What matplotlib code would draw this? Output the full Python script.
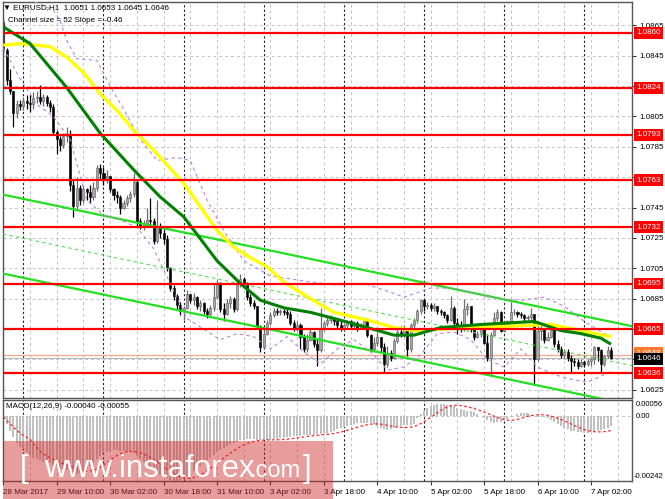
import matplotlib
matplotlib.use("Agg")
import matplotlib.pyplot as plt
import numpy as np
import pandas as pd
from matplotlib.patches import Rectangle

plt.rcParams['font.family'] = ['Liberation Sans', 'DejaVu Sans']

PIP = 0.0001
BASE = 1.0600

# ---- candle data (pips above 1.0600) ----
open_first = 267
close_pips = [249, 229, 222, 207, 213, 212, 215, 214, 213, 217, 218, 215, 218, 214, 211, 195, 190, 186, 192, 193,
              160, 146, 158, 150, 157, 155, 152, 158, 171, 168, 164, 166, 157, 153, 152, 145, 148, 151, 154, 162,
              136, 133, 135, 137, 136, 123, 133, 128,
              124, 105, 92, 87, 81, 77, 79, 88, 84, 86, 80, 82, 77, 75, 79, 86, 95, 78, 75, 82,
              85, 78, 95, 98, 95, 86, 82, 80, 67, 53, 62, 69, 74, 77, 76, 77, 76, 75, 69, 66, 68, 60,
              52, 58, 63, 55, 51, 66, 69, 71, 72, 70, 68, 66, 68, 70, 67, 69, 66, 67, 71, 61,
              52, 56, 60, 53, 42, 49, 46, 57, 63, 62, 66, 52, 68, 71, 77, 84, 80, 81, 79, 80,
              77, 76, 74, 71, 79, 69, 67, 66, 78,
              80, 65, 60, 62, 65, 56, 46, 61, 72, 76, 64, 68, 70, 76, 76, 75, 74, 72, 73, 75,
              45, 64, 66, 58, 60, 67, 55, 52, 48, 50, 46, 44, 43, 41, 43, 42, 44, 45, 53, 51,
              42, 47, 51, 46]
high_pips = [270, 250, 236, 222, 216, 216, 218, 219, 220, 221, 222, 226, 220, 219, 216, 213, 196, 192, 194, 198,
             196, 163, 165, 160, 160, 158, 160, 162, 173, 174, 172, 170, 166, 158, 156, 153, 150, 153, 156, 168,
             163, 138, 137, 145, 151, 138, 150, 135,
             131, 127, 106, 94, 88, 83, 80, 91, 88, 89, 87, 84, 83, 79, 81, 95, 97, 96, 82, 85,
             87, 86, 97, 101, 99, 96, 88, 84, 80, 68, 66, 71, 76, 79, 79, 78, 78, 78, 77, 71, 70, 69,
             62, 62, 66, 64, 59, 79, 70, 73, 74, 73, 71, 70, 69, 71, 71, 70, 70, 69, 73, 72,
             62, 60, 63, 60, 56, 54, 51, 59, 65, 67, 68, 66, 69, 72, 78, 85, 85, 83, 82, 82,
             80, 78, 77, 75, 87, 80, 72, 70, 85,
             82, 80, 66, 64, 66, 66, 62, 63, 76, 78, 77, 70, 71, 83, 78, 77, 76, 75, 74, 79,
             75, 67, 69, 66, 63, 68, 68, 58, 54, 52, 52, 48, 46, 45, 45, 44, 45, 46, 54, 53,
             52, 48, 54, 53]
low_pips = [247, 226, 220, 198, 204, 209, 209, 210, 208, 210, 214, 213, 212, 212, 208, 193, 180, 182, 184, 188,
            156, 139, 144, 147, 148, 150, 148, 150, 156, 163, 160, 161, 155, 150, 148, 141, 144, 146, 149, 152,
            133, 131, 130, 133, 132, 121, 122, 125,
            121, 103, 90, 84, 78, 74, 71, 78, 82, 81, 78, 77, 75, 72, 73, 77, 85, 76, 70, 74,
            79, 76, 77, 93, 92, 84, 80, 78, 65, 50, 52, 61, 68, 73, 74, 74, 74, 72, 68, 64, 64, 52,
            50, 50, 57, 53, 41, 50, 64, 67, 69, 68, 66, 64, 64, 66, 65, 65, 64, 65, 66, 60,
            50, 50, 54, 50, 36, 40, 44, 45, 56, 60, 60, 47, 50, 65, 69, 75, 77, 78, 77, 77,
            75, 74, 72, 69, 70, 68, 62, 63, 64,
            74, 63, 58, 59, 60, 55, 44, 35, 61, 70, 63, 63, 66, 70, 74, 73, 72, 70, 71, 71,
            28, 44, 58, 56, 57, 59, 53, 50, 46, 46, 44, 37, 41, 39, 40, 40, 41, 41, 42, 44,
            37, 41, 46, 45]

# ---- MACD main line per bar (units of 1e-5) ----
macd_e5 = [-5, -30, -55, -80, -100, -115, -125, -135, -145, -155, -162,
           -166, -170, -172, -176, -182, -188, -192, -196, -200, -210,
           -216, -216, -212, -206, -198, -188, -176, -160, -148, -140,
           -134, -130, -128, -128, -130, -132, -134, -136, -140, -150,
           -160, -170, -180, -190, -200, -210, -218, -226, -232, -238,
           -242, -242, -238, -230, -222, -214, -206, -196, -186, -176,
           -166, -156, -146, -136, -128, -120, -112, -106, -100, -96,
           -92, -90, -88, -87, -88, -90, -92, -92, -91, -90,
           -88, -86, -84, -82, -80, -78, -76, -75, -74, -72,
           -71, -70, -70, -69, -68, -66, -64, -60, -55, -50,
           -45, -42, -40, -36, -32, -29, -27, -26, -26, -28,
           -32, -38, -44, -50, -52, -50, -46, -42, -38, -36,
           -34, -33, -30, -10, 5, 18, 28, 35, 40, 42,
           42, 42, 41, 38, 34, 30, 26, 22, 18, 16,
           12, 6, 0, -8, -16, -22, -26, -25, -22, -17,
           -12, -6, 0, 5, 9, 10, 8, 4, 0, -4,
           0, -4, -10, -16, -24, -32, -38, -44, -50, -55,
           -58, -60, -62, -63, -63, -62, -60, -58, -54, -50, -45, -40]

# ---- moving averages (readings at bar index) ----
ma_green_idx = [0, 8, 19, 29, 39, 47, 54, 64, 71, 77, 84, 92, 99, 109, 117, 123, 131, 143, 159, 167, 173, 179, 182]
ma_green_pips = [264, 253, 224, 194, 170, 152, 139, 110, 95, 84, 79, 76, 72, 66, 61, 61, 66, 68, 70, 64, 62, 59, 55]
ma_yellow_idx = [0, 5, 14, 19, 24, 29, 34, 39, 44, 47, 54, 64, 69, 74, 79, 84, 92, 99, 109, 117, 123, 131, 143,
                 152, 164, 173, 182]
ma_yellow_pips = [252, 253, 251, 244, 234, 220, 209, 196, 185, 178, 161, 130, 119, 112, 106, 96, 85, 76, 71, 66,
                  64, 65, 66, 67, 68, 64, 60]

# ---- bands (purple dashed) ----
band_up_idx = [0, 15, 17, 19, 22, 28, 32, 36, 41, 46, 52, 56, 61, 66, 72, 80, 86, 92, 100, 108, 115, 120, 128, 135,
               142, 148, 155, 162, 168, 174, 180, 182]
band_up_pips = [290, 275, 268, 255, 243, 242, 225, 210, 190, 176, 178, 176, 150, 130, 110, 100, 98, 96, 94, 95, 90,
                86, 92, 92, 88, 85, 84, 86, 80, 70, 62, 60]
band_lo_idx = [0, 5, 10, 15, 20, 25, 30, 35, 40, 45, 50, 55, 60, 65, 70, 75, 80, 85, 90, 95, 100, 105, 110, 115,
               120, 125, 130, 135, 140, 145, 150, 155, 160, 165, 170, 175, 180, 182]
band_lo_pips = [250, 230, 213, 205, 190, 150, 140, 137, 132, 118, 95, 72, 65, 58, 62, 60, 52, 60, 50, 42, 52, 58,
                50, 38, 40, 48, 62, 63, 58, 45, 40, 52, 40, 35, 32, 30, 35, 37]

# ---- regression channel ----
chan_start_price = 1.07535
chan_slope_pips = -0.46
chan_size_pips = 52

levels = [1.0860, 1.0824, 1.0793, 1.0763, 1.0732, 1.0695, 1.0665, 1.0636]
price_ticks = [1.0625, 1.0645, 1.0665, 1.0685, 1.0705, 1.0725, 1.0745, 1.0765, 1.0785, 1.0805, 1.0825, 1.0845, 1.0865]
hidden_ticks = [1.0645, 1.0665, 1.0765, 1.0825]
bid_price = 1.0646
ask_price = 1.0648

x_label_bars = [0, 16, 32, 48, 64, 80, 96, 112, 128, 144, 160, 176]
x_labels = ["28 Mar 2017", "29 Mar 10:00", "30 Mar 02:00", "30 Mar 18:00", "31 Mar 10:00", "3 Apr 02:00",
            "3 Apr 18:00", "4 Apr 10:00", "5 Apr 02:00", "5 Apr 18:00", "6 Apr 10:00", "7 Apr 02:00"]
grid_bars = [0, 8, 16, 24, 32, 40, 48, 56, 64, 72, 80, 88, 96, 104, 112, 120, 128, 136, 144, 152, 160, 168, 176, 184]
day_sep_bars = [6, 30, 54, 78, 102, 126, 150, 174]

# ---------------------------------------------------------------
W, H = 665, 499
FS = 5.8
fig = plt.figure(figsize=(W / 100, H / 100), dpi=100)
fig.patch.set_facecolor('white')


def rect(l, t, r, b):
    return [l / W, 1 - b / H, (r - l) / W, (b - t) / H]


ax = fig.add_axes(rect(3, 2, 632, 398))
axm = fig.add_axes(rect(3, 400, 632, 481))
XL = (-0.1, 188.3)

closes = BASE + np.array(close_pips) * PIP
highs = BASE + np.array(high_pips) * PIP
lows = BASE + np.array(low_pips) * PIP
opens = np.concatenate([[BASE + open_first * PIP], closes[:-1]])
n = len(closes)
idx = np.arange(n)

grid_kw = dict(color='#c4c4c4', lw=0.7, ls=(0, (3, 3)), zorder=0.5)
sep_kw = dict(color='#202020', lw=0.8, ls=(0, (2, 2)), zorder=0.6)

for a in (ax, axm):
    a.set_xlim(*XL)
    for b in grid_bars:
        a.axvline(b, **grid_kw)
    for b in day_sep_bars:
        a.axvline(b, **sep_kw)
    for s in a.spines.values():
        s.set_color('#555555')
        s.set_linewidth(1.0)

ax.set_ylim(1.06196, 1.08804)
for p in price_ticks:
    ax.axhline(p, **grid_kw)

# candles
bull = closes >= opens
body_lo = np.minimum(opens, closes)
body_h = np.maximum(np.abs(closes - opens), 0.00003)
ax.vlines(idx[bull], lows[bull], highs[bull], color='#6a6a6a', lw=0.9, zorder=2)
ax.vlines(idx[~bull], lows[~bull], highs[~bull], color='black', lw=0.9, zorder=2)
ax.bar(idx[bull], body_h[bull], bottom=body_lo[bull], width=0.62, color='#a8a8a8', edgecolor='#5a5a5a',
       linewidth=0.4, zorder=2.1)
ax.bar(idx[~bull], body_h[~bull], bottom=body_lo[~bull], width=0.62, color='black', edgecolor='black',
       linewidth=0.4, zorder=2.1)

# channel
cx = np.array(XL)
up = chan_start_price + chan_slope_pips * PIP * cx
ax.plot(cx, up, color='#22e01e', lw=1.6, zorder=3)
ax.plot(cx, up - chan_size_pips * PIP, color='#22e01e', lw=1.6, zorder=3)
ax.plot(cx, up - chan_size_pips * PIP / 2, color='#4ee04a', lw=0.8, ls=(0, (3, 3)), zorder=3)

# bands
ax.plot(band_up_idx, BASE + np.array(band_up_pips) * PIP, color='#c080e0', lw=0.8, ls=(0, (3, 3)), zorder=3)
ax.plot(band_lo_idx, BASE + np.array(band_lo_pips) * PIP, color='#c080e0', lw=0.8, ls=(0, (3, 3)), zorder=3)

# MAs
ax.plot(ma_yellow_idx, BASE + np.array(ma_yellow_pips) * PIP, color='#ffff00', lw=2.4, zorder=4,
        solid_capstyle='butt')
ax.plot(ma_green_idx, BASE + np.array(ma_green_pips) * PIP, color='#008000', lw=2.2, zorder=4.1,
        solid_capstyle='butt')

# levels
for lv in levels:
    ax.axhline(lv, color='#ff0000', lw=1.6, zorder=4.5)
ax.axhline(ask_price, color='#f7a58a', lw=0.9, zorder=1.5)
ax.axhline(bid_price, color='#bdbdbd', lw=0.9, zorder=1.5)

# right axis ticks
ax.yaxis.tick_right()
ax.set_yticks(price_ticks)
ax.set_yticklabels(["" if p in hidden_ticks else f"{p:.4f}" for p in price_ticks])
ax.tick_params(axis='y', length=3, width=0.8, pad=2, labelsize=FS, colors='#333333', labelcolor='black')
ax.set_xticks([])

# MACD
macd = np.array(macd_e5) * 1e-5
signal = pd.Series(macd).rolling(9, min_periods=1).mean().values
axm.set_ylim(-0.00242, 0.00058)
axm.axhline(0, **grid_kw)
axm.bar(idx, macd, width=0.6, color='#c0c0c0', zorder=1)
axm.plot(idx, signal, color='#ff2020', lw=0.9, ls=(0, (2, 2)), zorder=2)
axm.set_yticks([])
axm.set_xticks(x_label_bars)
axm.set_xticklabels(x_labels, ha='left')
axm.tick_params(axis='x', length=3, width=0.8, pad=3, labelsize=FS, colors='#333333', labelcolor='black')


def fx(x):
    return x / W


def fy(y):
    return 1 - y / H


def ybox(price):
    lo, hi = ax.get_ylim()
    frac = (price - lo) / (hi - lo)
    return 398 - frac * 396


for lv in levels:
    fig.text(fx(636), fy(ybox(lv)), f"{lv:.4f}", color='white', fontsize=FS, va='center', ha='left',
             bbox=dict(boxstyle='square,pad=0.3', fc='#ff0000', ec='none'), zorder=20)
fig.text(fx(636), fy(ybox(ask_price) - 1.5), f"{ask_price:.4f}", color='white', fontsize=FS, va='center',
         ha='left', bbox=dict(boxstyle='square,pad=0.3', fc='#ff7a30', ec='none'), zorder=20)
fig.text(fx(636), fy(ybox(bid_price) + 1), f"{bid_price:.4f}", color='white', fontsize=FS, va='center',
         ha='left', bbox=dict(boxstyle='square,pad=0.3', fc='black', ec='none'), zorder=21)

fig.text(fx(636), fy(405), "0.00056", fontsize=5.5, va='center', ha='left')
fig.text(fx(636), fy(416), "0.00", fontsize=5.5, va='center', ha='left')
fig.text(fx(634), fy(476), "-0.00242", fontsize=5.5, va='center', ha='left')

# headers
fig.text(fx(3), fy(8), "\u25BC EURUSD,H1  1.0651 1.0653 1.0645 1.0646", fontsize=FS, va='center', ha='left',
         zorder=20)
fig.text(fx(8), fy(20), "Channel size = 52 Slope = -0.46", fontsize=FS, va='center', ha='left', zorder=20)
fig.text(fx(6), fy(407), "MACD(12,26,9) -0.00040 -0.00055", fontsize=FS, va='center', ha='left', zorder=20)

# watermark
fig.add_artist(Rectangle((fx(3), fy(499)), (333 - 3) / W, (499 - 441) / H, transform=fig.transFigure,
                         facecolor=(0.8, 0.15, 0.15), alpha=0.45, edgecolor='none', zorder=30))
fig.text(fx(20), fy(469), "[", color='white', fontsize=22, va='center', ha='left', zorder=31)
fig.text(fx(44), fy(477), "www.instaforex", color='white', fontsize=22.5, va='baseline', ha='left', zorder=31)
fig.text(fx(250), fy(477), ".com", color='white', fontsize=17, va='baseline', ha='left', zorder=31)
fig.text(fx(303), fy(469), "]", color='white', fontsize=22, va='center', ha='left', zorder=31)

fig.savefig("out.png", dpi=100, facecolor='white')
